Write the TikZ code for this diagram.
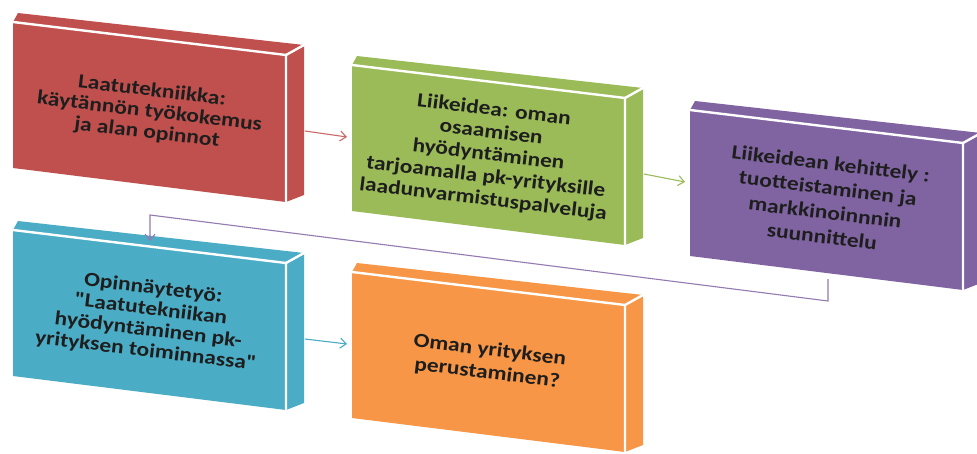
\documentclass[tikz,border=0pt]{standalone}
\usepackage{fontspec}
\setmainfont{Carlito}
\usetikzlibrary{arrows.meta}

\definecolor{cRed}{HTML}{C0504D}
\definecolor{cGreen}{HTML}{9BBB59}
\definecolor{cPurple}{HTML}{8064A2}
\definecolor{cBlue}{HTML}{4BACC6}
\definecolor{cOrange}{HTML}{F79646}
\definecolor{cText}{HTML}{1E1E1E}

\tikzset{
  boxedge/.style={white, line width=2.4pt, line cap=round, line join=round},
  boxlabel/.style={text=cText, align=center, rotate=-6.9, xscale=1.17, inner sep=0pt},
  arrowtip/.style={-{Straight Barb[length=6pt,width=10pt,line width=1.1pt]}},
  link/.style={line width=1.1pt, arrowtip},
}

% a box seen in perspective: front face, top face and right side face
% #1 name, #2/#3 front top-left corner, #4 colour, #5 line spacing, #6 text
\newcommand{\perspbox}[6]{%
  \begin{scope}[shift={(#2,#3)}]
    \fill[#4] (0,0) -- (5,-9) -- (291,23) -- (291,173) -- (273,180) -- (0,146) -- cycle;
    \draw[boxedge] (0,0) -- (273,33) -- (273,180);
    \draw[boxedge] (273,33) -- (291,23);
    \node[boxlabel, font=\fontsize{20}{#5}\selectfont\bfseries] (#1) at (136.5,90) {#6};
    \coordinate (#1-in) at (-5,72);
    \coordinate (#1-out) at (292,109);
  \end{scope}}

\begin{document}
\begin{tikzpicture}[x=1pt,y=-1pt]
  \clip (0,0) rectangle (977,453);
  \fill[white] (0,0) rectangle (977,453);

  \perspbox{quality}{13}{22}{cRed}{21}{Laatutekniikka:\\käytännön työkokemus\\ja alan opinnot}
  \perspbox{idea}{352}{65}{cGreen}{22.5}{Liikeidea: oman\\osaamisen\\hyödyntäminen\\tarjoamalla pk-yrityksille\\laadunvarmistuspalveluja}
  \perspbox{develop}{690}{110}{cPurple}{24.5}{Liikeidean kehittely :\\tuotteistaminen ja\\markkinoinnnin\\suunnittelu}
  \perspbox{thesis}{13}{230}{cBlue}{21}{Opinnäytetyö:\\\textquotedbl Laatutekniikan\\hyödyntäminen pk-\\yrityksen toiminnassa\textquotedbl}
  \perspbox{company}{352}{272}{cOrange}{23}{Oman yrityksen\\perustaminen?}

  % route of the feedback connector from the purple box to the blue one
  \coordinate (develop-bottom) at (828,279);
  \coordinate (develop-turn) at (828,301);
  \coordinate (thesis-turn) at (150,215);
  \coordinate (thesis-top) at (150,241);

  \draw[link, cRed!85] (quality-out) -- (idea-in);
  \draw[link, cGreen] (idea-out) -- (develop-in);
  \draw[link, cBlue] (thesis-out) -- (company-in);
  \draw[link, cPurple!85]
    (develop-bottom) -- (develop-turn) -- (thesis-turn) -- (thesis-top);
\end{tikzpicture}
\end{document}
